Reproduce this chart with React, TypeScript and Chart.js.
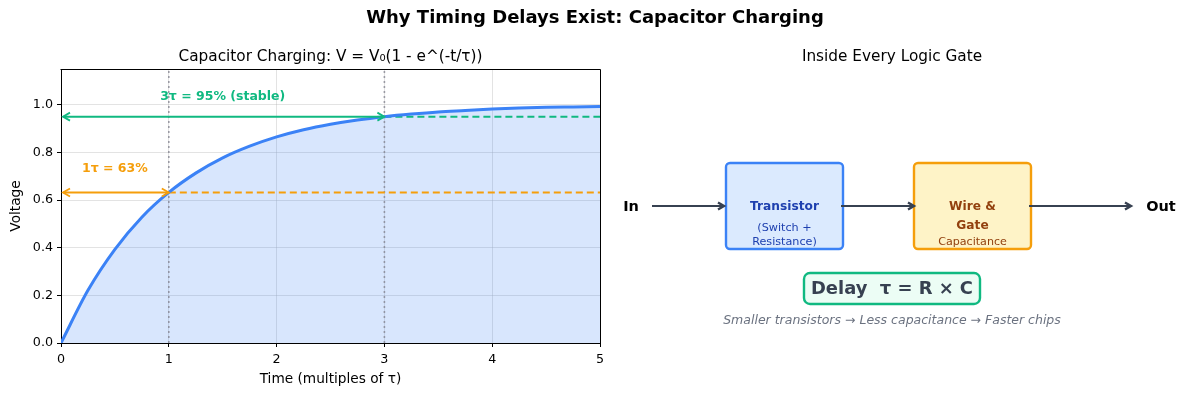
import React, { useEffect, useRef } from 'react';
import { Chart, registerables } from 'chart.js';

Chart.register(...registerables);

// ---- data ----
const timeValues = [0, 0.25, 0.5, 0.75, 1, 1.25, 1.5, 1.75, 2, 2.25, 2.5, 2.75, 3, 3.25, 3.5, 3.75, 4, 4.25, 4.5, 4.75, 5];
const voltageValues = [0, 0.221, 0.393, 0.528, 0.632, 0.713, 0.777, 0.826, 0.865, 0.895, 0.918, 0.936, 0.95, 0.961, 0.97, 0.976, 0.982, 0.986, 0.989, 0.991, 0.993];
const xRange = [0, 5];
const yRange = [0, 1.15];
const tauMarks = [1, 3];
const oneTauLevel = 0.632;
const threeTauLevel = 0.95;
const oneTauLabel = '1τ = 63%';
const threeTauLabel = '3τ = 95% (stable)';
const oneTauLabelPos = [0.5, 0.731];
const threeTauLabelPos = [1.5, 1.034];

const suptitle = 'Why Timing Delays Exist: Capacitor Charging';
const leftTitle = 'Capacitor Charging: V = V₀(1 - e^(-t/τ))';
const rightTitle = 'Inside Every Logic Gate';
const xAxisLabel = 'Time (multiples of τ)';
const yAxisLabel = 'Voltage';

const diagramInLabel = 'In';
const diagramOutLabel = 'Out';
const transistorLines = ['Transistor', '(Switch +', 'Resistance)'];
const wireLines = ['Wire &', 'Gate', 'Capacitance'];
const delayText = 'Delay  τ = R × C';
const captionText = 'Smaller transistors → Less capacitance → Faster chips';

const BLUE = '#3b82f6';
const GREEN = '#10b981';
const ORANGE = '#f59e0b';
const FONT = "'DejaVu Sans', sans-serif";

function arrowHead(ctx: CanvasRenderingContext2D, x: number, y: number, dir: number, len: number, half: number) {
  ctx.beginPath();
  ctx.moveTo(x - dir * len, y - half);
  ctx.lineTo(x, y);
  ctx.lineTo(x - dir * len, y + half);
  ctx.stroke();
}

const decorPlugin = {
  id: 'decor',
  afterDatasetsDraw(chart: any) {
    const ctx: CanvasRenderingContext2D = chart.ctx;
    const xs = chart.scales.x;
    const ys = chart.scales.y;
    ctx.save();
    const arrows: [number, number, string][] = [
      [tauMarks[1], threeTauLevel, GREEN],
      [tauMarks[0], oneTauLevel, ORANGE],
    ];
    for (const [xEnd, level, color] of arrows) {
      const x0 = xs.getPixelForValue(xRange[0]) + 2;
      const x1 = xs.getPixelForValue(xEnd);
      const y = ys.getPixelForValue(level);
      ctx.strokeStyle = color;
      ctx.lineWidth = 2;
      ctx.lineCap = 'butt';
      ctx.beginPath();
      ctx.moveTo(x0, y);
      ctx.lineTo(x1, y);
      ctx.stroke();
      ctx.lineWidth = 1.8;
      arrowHead(ctx, x0, y, -1, 7, 4);
      arrowHead(ctx, x1, y, 1, 7, 4);
    }
    ctx.font = `bold 12.5px ${FONT}`;
    ctx.textAlign = 'center';
    ctx.textBaseline = 'middle';
    ctx.fillStyle = GREEN;
    ctx.fillText(threeTauLabel, xs.getPixelForValue(threeTauLabelPos[0]), ys.getPixelForValue(threeTauLabelPos[1]));
    ctx.fillStyle = ORANGE;
    ctx.fillText(oneTauLabel, xs.getPixelForValue(oneTauLabelPos[0]), ys.getPixelForValue(oneTauLabelPos[1]));
    ctx.restore();
  },
  afterDraw(chart: any) {
    const ctx: CanvasRenderingContext2D = chart.ctx;
    const a = chart.chartArea;
    ctx.save();
    ctx.strokeStyle = '#000';
    ctx.lineWidth = 1;
    ctx.beginPath();
    ctx.moveTo(Math.round(a.left) - 0.5, Math.round(a.top) + 0.5);
    ctx.lineTo(Math.round(a.right) + 0.5, Math.round(a.top) + 0.5);
    ctx.lineTo(Math.round(a.right) + 0.5, Math.round(a.bottom) + 0.5);
    ctx.stroke();

    ctx.textAlign = 'center';
    ctx.textBaseline = 'middle';
    ctx.fillStyle = '#000';
    ctx.font = `bold 18px ${FONT}`;
    ctx.fillText(suptitle, 595, 18);
    ctx.font = `15.3px ${FONT}`;
    ctx.fillText(leftTitle, (a.left + a.right) / 2, 57);
    ctx.fillText(rightTitle, 892, 57);

    // ---- right-hand diagram ----
    const boxY = 163, boxH = 86, boxW = 117;
    const boxes = [
      { x: 726, fill: '#dbeafe', stroke: BLUE, color: '#1e40af', lines: transistorLines, ys: [207, 228, 242], bold: [true, false, false], sizes: [12.2, 11.2, 11.2] },
      { x: 914, fill: '#fef3c7', stroke: ORANGE, color: '#92400e', lines: wireLines, ys: [207, 226, 242], bold: [true, true, false], sizes: [12.2, 12.2, 11.1] },
    ];
    for (const b of boxes) {
      ctx.beginPath();
      ctx.roundRect(b.x, boxY, boxW, boxH, 4);
      ctx.fillStyle = b.fill;
      ctx.fill();
      ctx.lineWidth = 2.4;
      ctx.strokeStyle = b.stroke;
      ctx.stroke();
      ctx.fillStyle = b.color;
      b.lines.forEach((t, i) => {
        ctx.font = `${b.bold[i] ? 'bold ' : ''}${b.sizes[i]}px ${FONT}`;
        ctx.fillText(t, b.x + boxW / 2, b.ys[i]);
      });
    }
    ctx.strokeStyle = '#374151';
    const flows = [[652, 724], [841, 914], [1029, 1131]];
    for (const [x0, x1] of flows) {
      ctx.lineWidth = 2.2;
      ctx.beginPath();
      ctx.moveTo(x0, 206);
      ctx.lineTo(x1 - 1, 206);
      ctx.stroke();
      ctx.lineWidth = 2.4;
      arrowHead(ctx, x1, 206, 1, 6, 3.5);
    }
    ctx.fillStyle = '#000';
    ctx.font = `bold 14.5px ${FONT}`;
    ctx.fillText(diagramInLabel, 631, 207);
    ctx.fillText(diagramOutLabel, 1161, 207);

    ctx.beginPath();
    ctx.roundRect(804, 273, 176, 31, 6);
    ctx.fillStyle = '#ecfdf5';
    ctx.fill();
    ctx.lineWidth = 2.4;
    ctx.strokeStyle = GREEN;
    ctx.stroke();
    ctx.fillStyle = '#374151';
    ctx.font = `bold 17.9px ${FONT}`;
    ctx.fillText(delayText, 892, 289);

    ctx.fillStyle = '#6b7280';
    ctx.font = `italic 12.5px ${FONT}`;
    ctx.fillText(captionText, 892, 321);
    ctx.restore();
  },
};

export default function App() {
  const canvasRef = useRef<HTMLCanvasElement | null>(null);

  useEffect(() => {
    document.body.style.margin = '0';
    const canvas = canvasRef.current;
    if (!canvas) return;
    const curve = timeValues.map((t, i) => ({ x: t, y: voltageValues[i] }));
    const chart = new Chart(canvas, {
      type: 'line',
      data: {
        datasets: [
          {
            data: curve,
            borderColor: BLUE,
            borderWidth: 3,
            backgroundColor: 'rgba(59,130,246,0.2)',
            fill: 'origin',
            pointRadius: 0,
            cubicInterpolationMode: 'monotone',
          },
          {
            data: [{ x: tauMarks[1], y: threeTauLevel }, { x: xRange[1], y: threeTauLevel }],
            borderColor: GREEN,
            borderWidth: 2,
            borderDash: [7, 4],
            pointRadius: 0,
            fill: false,
          },
          {
            data: [{ x: tauMarks[0], y: oneTauLevel }, { x: xRange[1], y: oneTauLevel }],
            borderColor: ORANGE,
            borderWidth: 2,
            borderDash: [7, 4],
            pointRadius: 0,
            fill: false,
          },
          ...tauMarks.map((t) => ({
            data: [{ x: t, y: yRange[0] }, { x: t, y: yRange[1] }],
            borderColor: 'rgba(128,128,140,0.75)',
            borderWidth: 1.6,
            borderDash: [2, 3],
            pointRadius: 0,
            fill: false,
          })),
        ],
      },
      options: {
        responsive: false,
        animation: false,
        parsing: false as any,
        layout: { padding: { left: 0, top: 69, right: 586, bottom: 0 } },
        plugins: {
          legend: { display: false },
          tooltip: { enabled: false },
          filler: { drawTime: 'beforeDatasetsDraw' } as any,
        },
        scales: {
          x: {
            type: 'linear',
            min: xRange[0],
            max: xRange[1],
            ticks: { stepSize: 1, color: '#000', font: { family: FONT, size: 12.7 }, padding: 5 },
            grid: { color: 'rgba(176,176,176,0.35)', tickColor: '#000', tickLength: 4, lineWidth: 1 },
            border: { color: '#000', width: 1 },
            title: { display: true, text: xAxisLabel, color: '#000', font: { family: FONT, size: 13.7 }, padding: { top: 0, bottom: 8.5 } },
            afterFit: (s: any) => { s.height = 53; },
          },
          y: {
            type: 'linear',
            min: yRange[0],
            max: yRange[1],
            ticks: {
              stepSize: 0.2,
              color: '#000',
              font: { family: FONT, size: 12.7 },
              padding: 4,
              callback: (v: any) => Number(v).toFixed(1),
            },
            afterBuildTicks: (s: any) => { s.ticks = s.ticks.filter((t: any) => t.value <= 1.0001); },
            grid: { color: 'rgba(176,176,176,0.35)', tickColor: '#000', tickLength: 4, lineWidth: 1 },
            border: { color: '#000', width: 1 },
            title: { display: true, text: yAxisLabel, color: '#000', font: { family: FONT, size: 13.7 }, padding: { top: 8, bottom: 0 } },
            afterFit: (s: any) => { s.width = 61; },
          },
        },
      },
      plugins: [decorPlugin],
    });
    return () => chart.destroy();
  }, []);

  return (
    <div style={{ position: 'fixed', left: 0, top: 0, width: 1186, height: 396, background: '#fff' }}>
      <canvas ref={canvasRef} width={1186} height={396} />
    </div>
  );
}
